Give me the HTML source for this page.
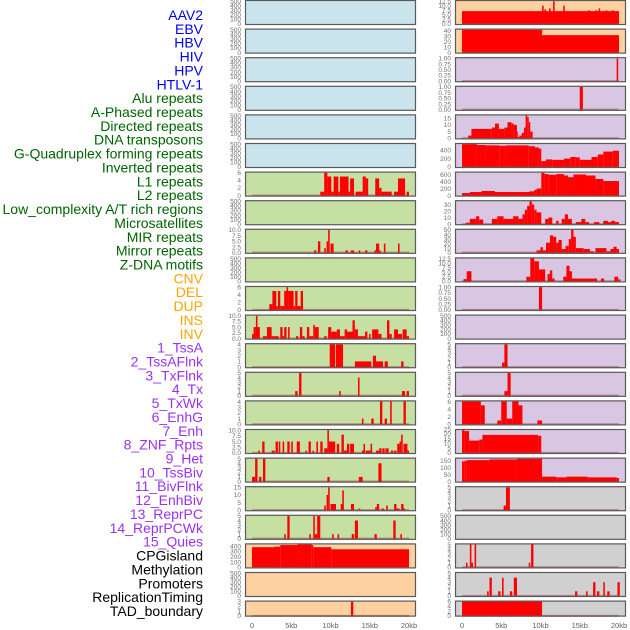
<!DOCTYPE html>
<html><head><meta charset="utf-8">
<style>
html,body{margin:0;padding:0;background:#fff;}
svg{display:block;font-family:"Liberation Sans",sans-serif;}
</style></head>
<body>
<svg id="fig" width="630" height="630" viewBox="0 0 630 630"></svg>
<script>
const trackLabels = ["AAV2","EBV","HBV","HIV","HPV","HTLV-1","Alu repeats","A-Phased repeats","Directed repeats","DNA transposons","G-Quadruplex forming repeats","Inverted repeats","L1 repeats","L2 repeats","Low_complexity A/T rich regions","Microsatellites","MIR repeats","Mirror repeats","Z-DNA motifs","CNV","DEL","DUP","INS","INV","1_TssA","2_TssAFlnk","3_TxFlnk","4_Tx","5_TxWk","6_EnhG","7_Enh","8_ZNF_Rpts","9_Het","10_TssBiv","11_BivFlnk","12_EnhBiv","13_ReprPC","14_ReprPCWk","15_Quies","CPGisland","Methylation","Promoters","ReplicationTiming","TAD_boundary"];
const labelColors = ["#0000ee","#0000ee","#0000ee","#0000ee","#0000ee","#0000ee","#006400","#006400","#006400","#006400","#006400","#006400","#006400","#006400","#006400","#006400","#006400","#006400","#006400","#ffa500","#ffa500","#ffa500","#ffa500","#ffa500","#9a32f0","#9a32f0","#9a32f0","#9a32f0","#9a32f0","#9a32f0","#9a32f0","#9a32f0","#9a32f0","#9a32f0","#9a32f0","#9a32f0","#9a32f0","#9a32f0","#9a32f0","#000","#000","#000","#000","#000"];
const panelBg = ["#c9e4ec","#c9e4ec","#c9e4ec","#c9e4ec","#c9e4ec","#c9e4ec","#c6e0a4","#c6e0a4","#c6e0a4","#c6e0a4","#c6e0a4","#c6e0a4","#c6e0a4","#c6e0a4","#c6e0a4","#c6e0a4","#c6e0a4","#c6e0a4","#c6e0a4","#ffd0a0","#ffd0a0","#ffd0a0","#ffd0a0","#ffd0a0","#d8c6e2","#d8c6e2","#d8c6e2","#d8c6e2","#d8c6e2","#d8c6e2","#d8c6e2","#d8c6e2","#d8c6e2","#d8c6e2","#d8c6e2","#d8c6e2","#d8c6e2","#d8c6e2","#d8c6e2","#d0d0d0","#d0d0d0","#d0d0d0","#d0d0d0","#d0d0d0"];
const T500=["0","100","200","300","400","500"];
const tickLabels = [T500,T500,T500,T500,T500,T500,["0","2","4","6"],T500,["0.0","2.5","5.0","7.5","10.0"],T500,["0","2","4","6"],["0.0","2.5","5.0","7.5","10.0"],["0","1","2","3","4"],["0","1","2","3","4","5"],["0","1","2","3","4"],["0.0","2.5","5.0","7.5","10.0"],["0","1","2","3","4","5"],["0","5","10","15"],["0","1","2","3","4","5"],["0","100","200","300","400"],T500,["0","1","2","3"],
["0.0","2.5","5.0","7.5","10.0","12.5"],["0","10","20","30","40"],["0.00","0.25","0.50","0.75","1.00"],["0.00","0.25","0.50","0.75","1.00"],["0","5","10","15"],["0","200","400"],["0","200","400","600"],["0","10","20","30"],["0","10","20","30","40","50"],["0.0","2.5","5.0","7.5","10.0","12.5"],["0.00","0.25","0.50","0.75","1.00"],T500,["0","1","2","3","4","5"],["0","1","2","3","4","5"],["0","2","4","6"],["0","5","10","15","20","25"],["0","50","100","150"],["0","1","2","3","4","5"],T500,["0","1","2","3","4","5"],["0","1","2","3","4","5"],["0","2","4","6"]];
const yMax = [500,500,500,500,500,500,6,500,10,500,6,10,4,5,4,10,5,15,5,430,500,3,12.5,42,1,1,17,550,660,35,50,12.5,1,500,5,5,6,24,165,5,500,5,5,6];
// segments: [startKb, endKb, value]
const segAlu=[[8.7,9.2,1],[9.2,9.6,6],[9.6,10.1,5],[10.1,10.4,1],[10.4,11,5],[11,11.2,1],[11.2,12.3,5],[12.3,12.5,1],[12.5,13,4.5],[13.2,14.1,1],[14.1,14.5,5],[14.5,14.8,4.5],[15.7,16.2,4.5],[16.2,16.5,2],[16.5,17.8,1],[18.1,18.6,1],[18.6,19.5,4.5],[19.7,20,1]];
const segDirected=[[7.9,8.2,1],[8.4,8.7,5],[9.2,9.4,2],[9.5,9.7,5],[9.7,9.9,10],[10,10.4,4],[11.9,12.2,1],[12.6,13,1],[13.6,13.8,1],[14.4,14.7,1],[15.6,15.8,1],[15.8,16.2,4],[16.2,16.4,1],[16.8,17,4],[18.6,18.8,4]];
const segGQuad=[[2.2,2.6,1.5],[2.6,3.1,5],[3.1,3.3,1],[3.3,3.6,5],[3.6,4.1,1],[4.1,4.4,5],[4.4,4.6,6],[4.6,5.3,5],[5.3,5.5,1],[5.5,5.8,5],[5.8,6.2,1],[6.2,6.5,5]];
const segInverted=[[0,0.2,2],[0.2,0.5,5],[0.5,0.7,10],[0.7,1,5],[1.4,1.9,1],[1.9,2.5,5],[2.5,3.4,1],[3.6,3.9,5],[3.9,4.1,1],[4.1,4.4,5],[4.6,4.8,5],[5.6,5.9,1],[6.1,6.4,5],[6.4,6.7,1],[7,7.3,5],[7.3,7.8,1],[7.8,8,6],[8,8.5,5],[9.2,9.5,1],[9.7,10.1,5],[10.1,10.8,3],[10.8,11.2,4],[11.2,11.8,1],[11.8,12.1,4],[12.1,12.8,3],[12.8,13.1,8],[13.1,13.5,4],[13.5,14.4,1],[14.4,14.7,3],[14.9,15.1,2],[15.3,16.1,4],[16.1,16.5,2],[17.2,17.5,8],[17.5,17.8,2],[18.1,18.6,4],[18.6,19.1,2],[19.2,19.7,4],[19.7,20,1]];
const segL1=[[9.9,10.6,4],[10.7,11.6,4],[13.1,15.2,1],[15.4,15.8,2],[15.8,16.7,1],[16.9,17.3,1],[19,19.3,1]];
const segL2=[[5.5,5.8,1],[6,6.3,5],[11.1,11.3,1],[13.5,13.7,4],[19.1,19.5,1],[19.7,20,1]];
const segLow=[[14,14.2,1],[15.2,15.5,1],[16.3,16.6,4],[16.9,17.2,1],[17.6,17.8,4],[19.3,19.6,4]];
const segMicro=[[0.8,1,1],[1.3,1.6,5],[2.5,2.9,1],[3,3.3,5],[3.4,3.6,5],[3.9,4.1,5],[4.5,4.8,5],[5,5.2,5],[5.7,6.1,5],[6.8,7,1],[7.2,7.5,5],[7.7,7.9,1],[8.2,8.4,5],[8.7,9,5],[9.2,9.6,2],[9.6,9.8,10],[9.8,10.6,5],[10.8,11.1,4],[11.4,11.7,8],[11.7,12.1,1],[12.1,12.4,4],[12.5,13,4],[14,14.4,1],[14.2,14.4,4],[14.5,15.1,1],[15.1,15.3,4],[15.8,16.2,1],[16.2,16.5,2],[16.6,16.9,2],[17,17.4,2],[17.7,18,1],[18.1,18.4,1],[18.5,18.8,4],[18.8,19,5],[19,19.2,8],[19.3,19.8,4],[19.8,20,1]];
const segMIR=[[0,0.4,1],[0.4,0.7,5],[0.9,1.2,1],[1.4,1.7,5],[9.6,9.9,1],[13.6,14.1,1],[16.1,16.5,4]];
const segMirror=[[9.2,9.4,3],[9.5,9.7,10],[9.7,9.9,15],[10,10.7,4],[11.3,11.6,4],[11.5,11.7,13],[12.6,13,4],[13.6,13.8,1],[15.7,15.9,2],[15.9,16.2,4],[16.5,16.8,1],[17.1,17.3,3],[18.1,18.4,4],[18.4,18.8,1],[19,19.3,4],[19.3,19.5,1]];
const segZDNA=[[4.1,4.3,1],[4.5,4.8,5],[7.3,7.5,1],[7.8,8,5],[8,8.3,1],[8.3,8.7,5],[10.2,10.4,1],[10.9,11.1,1],[12.7,13,1],[13.1,13.5,4],[15.6,15.9,1],[18,18.3,4],[18.9,19.1,1]];
const segCNV=[[0,2.8,380],[2.8,3.6,390],[3.6,5.8,420],[5.8,7.6,430],[7.6,7.8,420],[7.8,10.1,380],[10.1,20,340]];
const segDUP=[[12.6,12.9,3]];
const segINS=[[0,20,7],[10.2,10.4,10],[10.5,10.7,8],[11.1,11.3,8.5],[11.6,11.8,12.5],[12.9,13.1,10],[16.1,16.3,7.5],[17,17.2,7.5],[17.4,17.6,8.5],[18.3,18.5,7.5],[19.1,19.3,7.5]];
const segINV=[[0,10.2,42],[10.2,20,32]];
const segTssA=[[19.7,19.9,1]];
const segTssAFlnk=[[15,15.4,1]];
const segTxFlnk=[[0.8,1.2,2],[1.2,3.8,7],[3.8,4.2,8],[4.2,4.7,11],[4.7,5.4,7],[5.4,5.8,8],[5.8,6.3,12],[6.3,6.6,11],[6.6,7,10],[7,7.1,5],[7.1,7.3,1],[7.3,7.6,2],[7.6,7.9,4],[7.9,8.1,8],[8.1,8.3,17],[8.3,8.5,16],[8.5,8.7,12],[8.7,9,5]];
const segTx=[[0,1.9,550],[1.9,3,530],[3,4.8,520],[4.8,5.6,510],[5.6,8.5,520],[8.5,9.3,500],[9.3,9.8,470],[9.8,10.1,440],[10.1,10.7,140],[10.7,11.5,180],[11.5,13,170],[13,13.8,200],[13.8,14.5,240],[14.5,15,230],[15,16.5,170],[16.5,17.3,240],[17.3,18,300],[18,19.2,370],[19.2,20,390]];
const segTxWk=[[0,1,70],[1,2.5,100],[2.5,4.2,130],[4.2,8.6,100],[8.6,9.2,120],[9.2,9.5,160],[9.5,10.1,200],[10.1,10.5,660],[10.5,11,620],[11,12,600],[12,13,620],[13,13.5,580],[13.5,14.2,530],[14.2,15.8,610],[15.8,17,580],[17,18,480],[18,20,420]];
const segEnhG=[[0.5,1,2],[1,1.8,8],[1.8,2.2,12],[2.2,2.7,7],[3.8,4.5,8],[4.5,5.3,12],[5.3,6.5,8],[6.5,7.2,12],[7.2,7.7,8],[7.7,8,15],[8,8.3,22],[8.3,8.6,28],[8.6,8.9,35],[8.9,9.2,30],[9.2,9.5,22],[9.5,10.1,18],[10.6,11,8],[11,11.5,10],[12,12.3,5],[12.7,13.1,8],[13.1,13.5,15],[13.5,14,8],[14.5,15.2,3],[15.2,15.7,8],[15.7,16.2,3],[16.8,17.5,3],[18,18.6,5],[18.6,19,3],[19,19.5,5],[19.5,20,3]];
const segEnh=[[9.5,10,5],[10,10.3,12],[10.3,10.7,5],[10.7,11.2,22],[11.2,11.6,38],[11.6,12,35],[12,12.3,22],[12.3,12.7,28],[12.7,13.2,8],[13.2,13.6,15],[13.6,13.9,30],[13.9,14.2,50],[14.2,14.5,35],[14.5,15.5,10],[15.5,16.3,8],[16.3,16.8,3],[17,18.4,10],[18.4,18.9,3],[18.9,19.3,8],[19.3,19.7,13],[19.7,20,8]];
const segZNF=[[0.2,0.6,1.2],[0.6,1.2,5.5],[8.2,8.7,2.5],[8.7,9.2,12.5],[9.2,9.8,11],[9.8,10.6,6.5],[10.9,11.2,4],[11.2,11.5,6],[11.5,11.8,1.5],[12.9,13.3,2.5],[13.3,13.7,8.5],[13.7,14,5.5],[14,17.2,1.5],[17.7,18.1,1.5],[19.4,19.9,2.5],[19.9,20.2,1]];
const segHet=[[9.8,10.2,1]];
const segBivFlnk=[[5.1,5.4,1],[5.4,5.8,5]];
const segEnhBiv=[[5.4,5.8,1],[5.8,6.2,5]];
const segReprPC=[[0,2.4,6],[2.4,2.9,5],[4.5,5,1],[5,5.7,6],[5.7,6.4,1.5],[6.4,7.2,6],[7.2,7.7,5],[9.6,10.2,1]];
const segReprPCWk=[[0,0.3,24],[0.3,0.9,23],[0.9,2.2,13],[2.2,2.6,14],[2.6,9.7,19],[9.7,10.1,18]];
const segQuies=[[0,0.3,145],[0.3,0.6,150],[0.6,3.5,155],[3.5,7,160],[7,10.2,165],[10.2,12,35],[12,13.3,30],[13.3,16,35],[16,19.7,30],[19.7,20,25]];
const segCPG=[[5.3,5.6,1],[5.6,6.1,5]];
const segPromoters=[[0.5,0.7,1],[1,1.2,5],[1.2,1.4,1],[1.6,1.8,5],[8.5,8.7,1],[8.8,9.1,5]];
const segRepTiming=[[3.2,3.4,1],[3.5,3.8,4],[4.6,4.9,1],[5.1,5.3,4],[6.1,6.4,1],[6.6,7,4],[14.4,14.7,1],[15.8,16,1],[16.7,17,3],[17.2,17.5,1],[18,18.2,3],[18.5,18.8,1],[19.8,20.1,3]];
const segTAD=[[0,10.2,6]];
const panelSegs=[[],[],[],[],[],[],segAlu,[],segDirected,[],segGQuad,segInverted,segL1,segL2,segLow,segMicro,segMIR,segMirror,segZDNA,segCNV,[],segDUP,
segINS,segINV,segTssA,segTssAFlnk,segTxFlnk,segTx,segTxWk,segEnhG,segEnh,segZNF,segHet,[],segBivFlnk,segEnhBiv,segReprPC,segReprPCWk,segQuies,segCPG,[],segPromoters,segRepTiming,segTAD];
const xTickKb=[0,5,10,15,20];
const xTickText=["0","5kb","10kb","15kb","20kb"];

const NS="http://www.w3.org/2000/svg";
const svg=document.getElementById('fig');
function mk(tag,attrs,parent){const e=document.createElementNS(NS,tag);for(const k in attrs)e.setAttribute(k,attrs[k]);(parent||svg).appendChild(e);return e;}
const colLeft=[245,455], PW=171, ROW=28.6;
function xScale(col,kb){return colLeft[col]+7+kb*7.85;}

// labels
trackLabels.forEach((t,i)=>{
  const el=mk('text',{x:203,y:15+i*13.86+5,'text-anchor':'end','font-size':'14',fill:labelColors[i]});
  el.textContent=t;
  
  
});

for(let p=0;p<44;p++){
  const col=p<22?0:1, row=p%22;
  const top=row*ROW, H=(row===21)?16:25;
  const L=colLeft[col];
  const g=mk('g',{});
  
  
  const bg=mk('rect',{x:L,y:top,width:PW,height:H,fill:panelBg[p]},g);
  
  
  const ym=yMax[p];
  const yS=v=>top+H*(1.05*ym-v)/(1.1*ym);
  const segs=panelSegs[p];
  if(segs.length){
    const base=mk('line',{x1:xScale(col,0),x2:xScale(col,20),y1:yS(0),y2:yS(0),stroke:'rgba(150,40,40,0.45)','stroke-width':2},g);
    
    
  }
  segs.forEach(s=>{
    const x1=xScale(col,s[0]),x2=xScale(col,s[1]);
    const y1=Math.max(yS(s[2]),top);
    const r=mk('rect',{x:x1,y:y1,width:Math.max(x2-x1,0.8),height:yS(0)-y1,fill:'#ff0000'},g);
    
    
  });
  const fr=mk('rect',{x:L+0.5,y:top+0.5,width:PW-1,height:H-1,fill:'none',stroke:'#5a5a5a','stroke-width':1.2},g);
  
  
  const tl=tickLabels[p];
  tl.forEach(t=>{
    const v=parseFloat(t);
    const tx=mk('text',{x:L-4,y:yS(v)+2.3,'text-anchor':'end','font-size':'6.5',fill:'#707070'},g);
    tx.textContent=t;
    
    
  });
}
// x axis ticks
for(let c=0;c<2;c++){
  xTickKb.forEach((k,i)=>{
    const t=mk('text',{x:xScale(c,k),y:628,'text-anchor':'middle','font-size':'7.5',fill:'#606060'});
    t.textContent=xTickText[i];
    
    
  });
}
</script>
</body></html>
